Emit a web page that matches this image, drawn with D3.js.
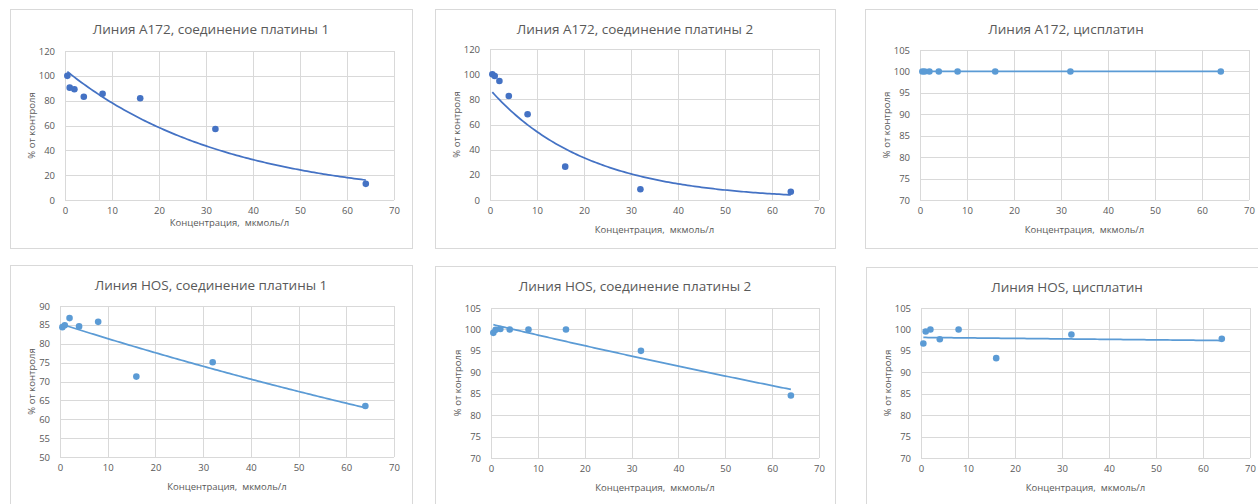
<!DOCTYPE html>
<html>
<head>
<meta charset="utf-8">
<script src="https://cdn.jsdelivr.net/npm/d3@7"></script>
<style>
  body { margin: 0; background: #fff; }
  svg { display: block; font-family: 'Open Sans', sans-serif; }
</style>
</head>
<body>
<svg id="chart"></svg>
<script>
const width = 1258
const height = 504

// concentrations, мкмоль/л
const conc = [0.5, 1, 2, 4, 8, 16, 32, 64]

// % от контроля
const a172Pt1 = [100, 90.5, 89.2, 83.1, 85.5, 82, 57.2, 13]
const a172Pt2 = [99.9, 98.6, 94.6, 82.7, 68.1, 26.5, 8.5, 6.5]
const a172Cis = [100, 100, 100, 100, 100, 100, 100, 100]
const hosPt1 = [84.4, 84.9, 86.8, 84.6, 85.8, 71.3, 75.1, 63.5]
const hosPt2 = [99.2, 99.9, 100.1, 100, 100, 100, 95, 84.6]
const hosCis = [96.7, 99.5, 100, 97.7, 100, 93.3, 98.8, 97.8]

const titles = [
  'Линия A172, соединение платины 1',
  'Линия A172, соединение платины 2',
  'Линия A172, цисплатин',
  'Линия HOS, соединение платины 1',
  'Линия HOS, соединение платины 2',
  'Линия HOS, цисплатин',
]

const xTicks = [0, 10, 20, 30, 40, 50, 60, 70]
const yTicks0to120 = [0, 20, 40, 60, 80, 100, 120]
const yTicks70to105 = [70, 75, 80, 85, 90, 95, 100, 105]
const yTicks50to90 = [50, 55, 60, 65, 70, 75, 80, 85, 90]

const xLabel = 'Концентрация,  мкмоль/л'
const yLabel = '% от контроля'

const dark = '#4472c4'
const light = '#5b9bd5'
const grid = '#d9d9d9'
const text = '#595959'

// layout of every panel: box, plot area, label positions
const panels = [
  { values: a172Pt1, yTicks: yTicks0to120, color: dark,
    box: [10, 9, 402, 239], plot: [65, 51, 394, 200], xLabelY: 223, yLabelX: 32 },
  { values: a172Pt2, yTicks: yTicks0to120, color: dark,
    box: [435, 9, 400, 239], plot: [490, 49, 819, 200], xLabelY: 230, yLabelX: 457 },
  { values: a172Cis, yTicks: yTicks70to105, color: light,
    box: [865, 9, 402, 239], plot: [920, 50, 1249, 200], xLabelY: 230, yLabelX: 887 },
  { values: hosPt1, yTicks: yTicks50to90, color: light,
    box: [10, 265, 402, 248], plot: [60, 306, 394, 457], xLabelY: 487, yLabelX: 32 },
  { values: hosPt2, yTicks: yTicks70to105, color: light,
    box: [435, 266, 400, 248], plot: [491, 308, 819, 458], xLabelY: 488, yLabelX: 458 },
  { values: hosCis, yTicks: yTicks70to105, color: light,
    box: [866, 267, 402, 248], plot: [921, 308, 1250, 458], xLabelY: 488, yLabelX: 888 },
]

const svg = d3.select('#chart').attr('width', width).attr('height', height)

// Excel-style exponential trendline: ln(y) = ln(a) + b*x
function expFit(xs, ys) {
  const ly = ys.map(Math.log)
  const mx = d3.mean(xs)
  const my = d3.mean(ly)
  const sxy = d3.sum(xs, (x, i) => (x - mx) * (ly[i] - my))
  const sxx = d3.sum(xs, (x) => (x - mx) * (x - mx))
  const b = sxy / sxx
  const a = Math.exp(my - b * mx)
  return (x) => a * Math.exp(b * x)
}

panels.forEach((p, i) => {
  const [x0, y0, x1, y1] = p.plot
  const g = svg.append('g')

  g.append('rect')
    .attr('x', p.box[0] + 0.5)
    .attr('y', p.box[1] + 0.5)
    .attr('width', p.box[2])
    .attr('height', p.box[3])
    .attr('fill', '#fff')
    .attr('stroke', grid)

  const x = d3.scaleLinear().domain([0, 70]).range([x0, x1])
  const y = d3.scaleLinear().domain(d3.extent(p.yTicks)).range([y1, y0])

  // gridlines
  g.append('g')
    .selectAll('line.h')
    .data(p.yTicks)
    .join('line')
    .attr('x1', x0).attr('x2', x1)
    .attr('y1', (d) => Math.round(y(d)) + 0.5)
    .attr('y2', (d) => Math.round(y(d)) + 0.5)
    .attr('stroke', grid)
  g.append('g')
    .selectAll('line.v')
    .data(xTicks)
    .join('line')
    .attr('y1', y0).attr('y2', y1)
    .attr('x1', (d) => Math.round(x(d)) + 0.5)
    .attr('x2', (d) => Math.round(x(d)) + 0.5)
    .attr('stroke', grid)

  // axes (labels only)
  const xAxis = g.append('g')
    .attr('transform', `translate(0,${y1 + 4})`)
    .call(d3.axisBottom(x).tickValues(xTicks).tickSize(0))
  const yAxis = g.append('g')
    .attr('transform', `translate(${x0 - 7},0)`)
    .call(d3.axisLeft(y).tickValues(p.yTicks).tickSize(0))
  ;[xAxis, yAxis].forEach((a) => {
    a.select('.domain').remove()
    a.selectAll('text')
      .attr('fill', text)
      .style('font-size', '9.5px')
      .style('font-family', "'Open Sans', sans-serif")
  })

  // title
  g.append('text')
    .attr('x', p.box[0] + p.box[2] / 2)
    .attr('y', p.box[1] + 25)
    .attr('text-anchor', 'middle')
    .attr('fill', text)
    .style('font-size', '13.5px')
    .text(titles[i])

  g.append('text')
    .attr('x', (x0 + x1) / 2)
    .attr('y', p.xLabelY)
    .attr('text-anchor', 'middle')
    .attr('dominant-baseline', 'middle')
    .attr('fill', text)
    .style('font-size', '9.5px')
    .style('white-space', 'pre')
    .text(xLabel)

  g.append('text')
    .attr('transform', `translate(${p.yLabelX},${(y0 + y1) / 2}) rotate(-90)`)
    .attr('text-anchor', 'middle')
    .attr('dominant-baseline', 'middle')
    .attr('fill', text)
    .style('font-size', '9.5px')
    .text(yLabel)

  // trendline
  const fit = expFit(conc, p.values)
  const xs = d3.range(conc[0], conc[conc.length - 1] + 0.001, 0.5)
  g.append('path')
    .datum(xs)
    .attr('fill', 'none')
    .attr('stroke', p.color)
    .attr('stroke-width', 1.75)
    .attr('d', d3.line().x((d) => x(d)).y((d) => y(fit(d))))

  // points
  g.append('g')
    .selectAll('circle')
    .data(conc)
    .join('circle')
    .attr('cx', (d) => x(d))
    .attr('cy', (d, j) => y(p.values[j]))
    .attr('r', 3.3)
    .attr('fill', p.color)
})
</script>
</body>
</html>
